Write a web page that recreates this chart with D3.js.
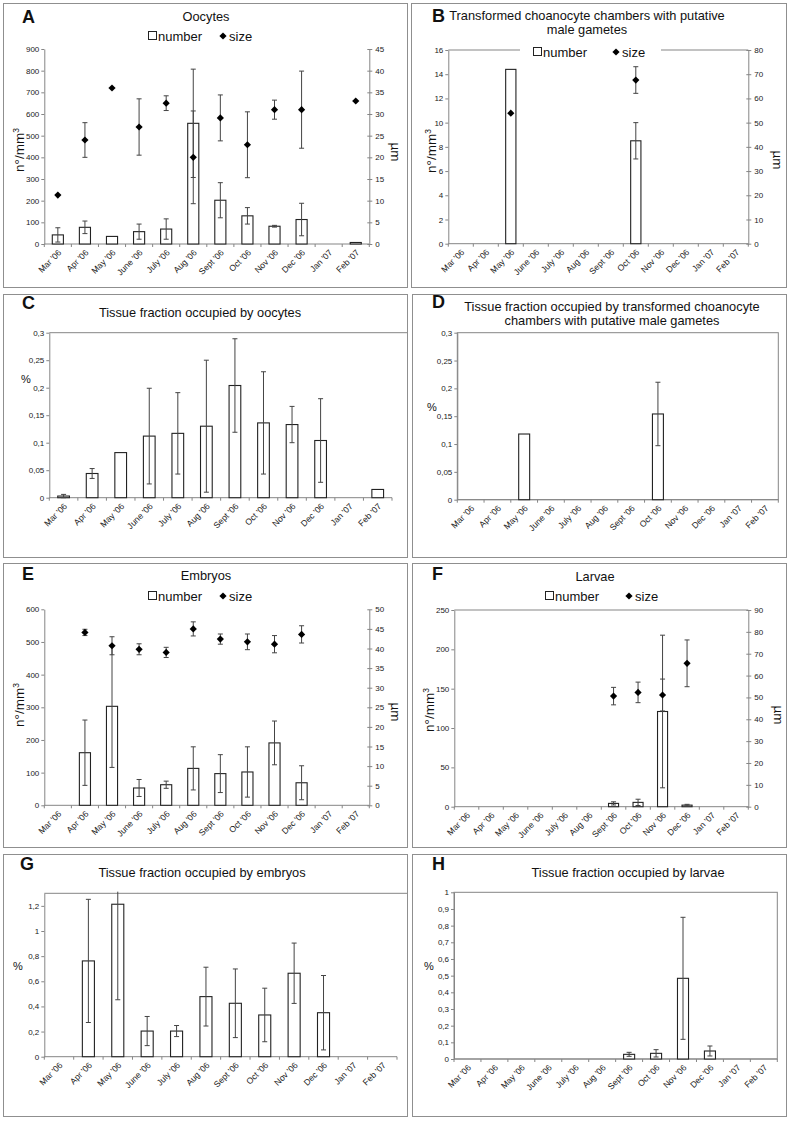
<!DOCTYPE html>
<meta charset="utf-8">
<head>
<style>
body { margin: 0; background: #fff; }
svg { display: block; font-family: "Liberation Sans", Arial, sans-serif; }
.frame { fill: none; stroke: #8f8f8f; stroke-width: 1px; }
.axis path, .axis line, .pline { stroke: #858585; fill: none; stroke-width: 1px; }
.axis text { font-size: 8px; fill: #1a1a1a; }
.axis text.xl { font-size: 8.6px; }
.bar { fill: #fff; stroke: #222; stroke-width: 1.1px; }
.err { stroke: #444; stroke-width: 1px; }
.title { font-size: 12.8px; fill: #111; text-anchor: middle; }
.letter { font-size: 18px; font-weight: bold; fill: #111; }
.legend { font-size: 13px; fill: #111; }
.ytitle { font-size: 13.5px; fill: #111; }
.pct { font-size: 11px; fill: #111; }
</style>
</head>
<body>
<script src="https://d3js.org/d3.v7.min.js"></script>
<script>
// months on the x axis of every panel
var months = ["Mar '06", "Apr '06", "May '06", "June '06", "July '06", "Aug '06",
              "Sept '06", "Oct '06", "Nov '06", "Dec '06", "Jan '07", "Feb '07"];

// A - oocytes (number n°/mm3 and size µm, with sd)
var oocyteNumber   = [42, 77, 35, 57, 69, 557, 202, 130, 82, 113, null, 7];
var oocyteNumberSd = [33, 29, 0, 35, 47, 250, 81, 38, 4, 75, null, 0];
var oocyteSize     = [11.3, 24, 36, 27, 32.5, 20, 29.1, 22.9, 31, 31, null, 33];
var oocyteSizeSd   = [0, 4, 0, 6.5, 1.7, 10.7, 5.3, 7.6, 2.2, 8.9, null, 0];

// B - transformed choanocyte chambers
var chamberNumber   = [null, null, 14.4, null, null, null, null, 8.5, null, null, null, null];
var chamberNumberSd = [null, null, 0, null, null, null, null, 1.5, null, null, null, null];
var chamberSize     = [null, null, 53.9, null, null, null, null, 67.6, null, null, null, null];
var chamberSizeSd   = [null, null, 0, null, null, null, null, 5.5, null, null, null, null];

// C - tissue fraction, oocytes (%)
var oocyteFraction   = [0.003, 0.044, 0.082, 0.112, 0.117, 0.130, 0.204, 0.136, 0.133, 0.104, null, 0.015];
var oocyteFractionSd = [0.003, 0.009, 0, 0.087, 0.074, 0.12, 0.085, 0.093, 0.033, 0.076, null, 0];

// D - tissue fraction, chambers (%)
var chamberFraction   = [null, null, 0.118, null, null, null, null, 0.154, null, null, null, null];
var chamberFractionSd = [null, null, 0, null, null, null, null, 0.057, null, null, null, null];

// E - embryos
var embryoNumber   = [null, 161, 303, 53, 63, 113, 97, 102, 191, 69, null, null];
var embryoNumberSd = [null, 100, 187, 26, 11, 66, 58, 77, 67, 52, null, null];
var embryoSize     = [null, 44.1, 40.7, 39.8, 39.0, 45.0, 42.4, 41.7, 41.1, 43.6, null, null];
var embryoSizeSd   = [null, 0.8, 2.3, 1.4, 1.3, 1.8, 1.3, 2.0, 2.2, 2.2, null, null];

// F - larvae
var larvaNumber   = [null, null, null, null, null, null, 4.2, 5.5, 121, 2, null, null];
var larvaNumberSd = [null, null, null, null, null, null, 2, 4, 97, 1, null, null];
var larvaSize     = [null, null, null, null, null, null, 50.6, 52.3, 51.1, 65.6, null, null];
var larvaSizeSd   = [null, null, null, null, null, null, 4, 4.7, 7.3, 10.7, null, null];

// G - tissue fraction, embryos (%)
var embryoFraction   = [null, 0.762, 1.213, 0.204, 0.204, 0.478, 0.425, 0.332, 0.664, 0.350, null, null];
var embryoFractionSd = [null, 0.49, 0.76, 0.116, 0.044, 0.234, 0.273, 0.213, 0.24, 0.296, null, null];

// H - tissue fraction, larvae (%)
var larvaFraction   = [null, null, null, null, null, null, 0.028, 0.034, 0.484, 0.048, null, null];
var larvaFractionSd = [null, null, null, null, null, null, 0.012, 0.022, 0.366, 0.03, null, null];

// tick values
var ticksA  = [0, 100, 200, 300, 400, 500, 600, 700, 800, 900];
var ticksA2 = [0, 5, 10, 15, 20, 25, 30, 35, 40, 45];
var ticksB  = [0, 2, 4, 6, 8, 10, 12, 14, 16];
var ticksB2 = [0, 10, 20, 30, 40, 50, 60, 70, 80];
var ticksCD = [0, 0.05, 0.1, 0.15, 0.2, 0.25, 0.3];
var ticksE  = [0, 100, 200, 300, 400, 500, 600];
var ticksE2 = [0, 5, 10, 15, 20, 25, 30, 35, 40, 45, 50];
var ticksF  = [0, 50, 100, 150, 200, 250];
var ticksF2 = [0, 10, 20, 30, 40, 50, 60, 70, 80, 90];
var ticksG  = [0, 0.2, 0.4, 0.6, 0.8, 1, 1.2];
var ticksH  = [0, 0.1, 0.2, 0.3, 0.4, 0.5, 0.6, 0.7, 0.8, 0.9, 1];

var svg = d3.select("body").append("svg")
    .attr("width", 791)
    .attr("height", 1121);

var comma = function(d) { return String(+d.toFixed(3)).replace(".", ","); };

var panels = [
  { letter: "A", frame: [3, 3, 407, 287], lx: 22, ly: 23,
    plot: [44.3, 369.3, 49, 244], yMax: 900, ticks: ticksA, y2Max: 45, ticks2: ticksA2,
    bars: oocyteNumber, barsSd: oocyteNumberSd, pts: oocyteSize, ptsSd: oocyteSizeSd,
    title: ["Oocytes"], tx: 206, ty: [21],
    legend: { box: 148, dia: 223, y: 36 }, yt: [24, 150], um: [396, 152] },
  { letter: "B", frame: [411, 3, 786, 287], lx: 432, ly: 22,
    plot: [448.3, 748.3, 50, 243.7], yMax: 16, ticks: ticksB, y2Max: 80, ticks2: ticksB2,
    bars: chamberNumber, barsSd: chamberNumberSd, pts: chamberSize, ptsSd: chamberSizeSd,
    title: ["Transformed choanocyte chambers with putative", "male gametes"], tx: 587, ty: [20, 34],
    border: "top", legend: { box: 533, dia: 616, y: 52, bg: [520, 661] }, yt: [436, 151], um: [778, 160] },
  { letter: "C", frame: [3, 294, 407, 557], lx: 22, ly: 309,
    plot: [49.3, 392, 332.7, 497.7], yMax: 0.3, ticks: ticksCD, fmt: comma,
    bars: oocyteFraction, barsSd: oocyteFractionSd,
    title: ["Tissue fraction occupied by oocytes"], tx: 200, ty: [317],
    border: "topfull", pct: [21, 383] },
  { letter: "D", frame: [412, 294, 786, 557], lx: 432, ly: 308,
    plot: [457.3, 778.3, 332.7, 499.7], yMax: 0.3, ticks: ticksCD, fmt: comma,
    bars: chamberFraction, barsSd: chamberFractionSd,
    title: ["Tissue fraction occupied by transformed choanocyte", "chambers with putative male gametes"],
    tx: 612, ty: [311, 325], border: "box", pct: [427, 411] },
  { letter: "E", frame: [3, 563, 407, 847], lx: 22, ly: 580,
    plot: [44.3, 369.3, 609.3, 805.3], yMax: 600, ticks: ticksE, y2Max: 50, ticks2: ticksE2,
    bars: embryoNumber, barsSd: embryoNumberSd, pts: embryoSize, ptsSd: embryoSizeSd,
    title: ["Embryos"], tx: 206, ty: [580],
    legend: { box: 148, dia: 223, y: 596 }, yt: [24, 705], um: [396, 712] },
  { letter: "F", frame: [412, 563, 786, 847], lx: 432, ly: 580,
    plot: [454.3, 748.3, 610, 806.7], yMax: 250, ticks: ticksF, y2Max: 90, ticks2: ticksF2,
    bars: larvaNumber, barsSd: larvaNumberSd, pts: larvaSize, ptsSd: larvaSizeSd,
    title: ["Larvae"], tx: 595, ty: [581],
    border: "top", legend: { box: 545, dia: 629, y: 596 }, yt: [434, 710], um: [779, 715] },
  { letter: "G", frame: [3, 854, 407, 1116], lx: 20, ly: 870,
    plot: [44.3, 397, 893.3, 1056.7], yMax: 1.3, ticks: ticksG, fmt: comma,
    bars: embryoFraction, barsSd: embryoFractionSd,
    title: ["Tissue fraction occupied by embryos"], tx: 202, ty: [877],
    border: "topfull", pct: [13, 970] },
  { letter: "H", frame: [412, 854, 786, 1116], lx: 432, ly: 870,
    plot: [454, 777.3, 892.3, 1059], yMax: 1, ticks: ticksH, fmt: comma,
    bars: larvaFraction, barsSd: larvaFractionSd,
    title: ["Tissue fraction occupied by larvae"], tx: 628, ty: [877],
    border: "box", pct: [424, 970] }
];

var diamond = d3.symbol().type(d3.symbolSquare).size(26);

function errBar(g, cx, y, v, sd) {
  if (!sd) return;
  var top = v + sd, bot = Math.max(0, v - sd);
  var clipped = top > y.domain()[1];
  g.append("line").attr("class", "err")
    .attr("x1", cx).attr("x2", cx)
    .attr("y1", y(Math.min(top, y.domain()[1] * 1.01))).attr("y2", y(bot));
  if (!clipped)
    g.append("line").attr("class", "err")
      .attr("x1", cx - 2.5).attr("x2", cx + 2.5).attr("y1", y(top)).attr("y2", y(top));
  g.append("line").attr("class", "err")
    .attr("x1", cx - 2.5).attr("x2", cx + 2.5).attr("y1", y(bot)).attr("y2", y(bot));
}

function drawPanel(p) {
  var g = svg.append("g");
  var f = p.frame;
  var x0 = p.plot[0], x1 = p.plot[1], yTop = p.plot[2], yBot = p.plot[3];

  g.append("rect").attr("class", "frame")
    .attr("x", f[0] + 0.5).attr("y", f[1] + 0.5)
    .attr("width", f[2] - f[0]).attr("height", f[3] - f[1]);

  var x = d3.scaleBand().domain(months).range([x0, x1]);
  var bw = x.bandwidth();
  var y = d3.scaleLinear().domain([0, p.yMax]).range([yBot, yTop]);

  // plot area border
  if (p.border === "box") {
    g.append("rect").attr("class", "pline")
      .attr("x", x0).attr("y", yTop).attr("width", x1 - x0).attr("height", yBot - yTop);
  } else if (p.border === "top") {
    g.append("line").attr("class", "pline")
      .attr("x1", x0).attr("x2", x1).attr("y1", yTop).attr("y2", yTop);
  } else if (p.border === "topfull") {
    g.append("line").attr("class", "pline")
      .attr("x1", x0).attr("x2", f[2]).attr("y1", yTop).attr("y2", yTop);
  }

  // x axis: ticks on category boundaries, labels under category centres
  var xa = g.append("g").attr("class", "axis");
  xa.append("line").attr("x1", x0).attr("x2", x1).attr("y1", yBot).attr("y2", yBot);
  xa.selectAll(".bt").data(months.concat(["end"])).enter().append("line")
    .attr("x1", function(d) { return d === "end" ? x1 : x(d); })
    .attr("x2", function(d) { return d === "end" ? x1 : x(d); })
    .attr("y1", yBot).attr("y2", yBot + 3);
  xa.selectAll("text").data(months).enter().append("text")
    .attr("class", "xl")
    .attr("transform", function(d) {
      return "translate(" + (x(d) + bw / 2 + 2) + "," + (yBot + 7) + ") rotate(-45)";
    })
    .attr("text-anchor", "end")
    .attr("dy", "0.35em")
    .text(function(d) { return d; });

  // left axis
  g.append("g").attr("class", "axis")
    .attr("transform", "translate(" + x0 + ",0)")
    .call(d3.axisLeft(y).tickValues(p.ticks).tickSize(3).tickSizeOuter(0)
      .tickFormat(p.fmt || function(d) { return d; }))
    .call(function(a) { a.selectAll("text").attr("x", -5); });

  var y2 = null;
  if (p.y2Max) {
    y2 = d3.scaleLinear().domain([0, p.y2Max]).range([yBot, yTop]);
    g.append("g").attr("class", "axis")
      .attr("transform", "translate(" + x1 + ",0)")
      .call(d3.axisRight(y2).tickValues(p.ticks2).tickSize(3).tickSizeOuter(0))
      .call(function(a) {
        a.selectAll(".tick line").attr("x1", -2);
        a.selectAll("text").attr("x", 6);
      });
  }

  // bars
  var barFrac = 0.41;
  var bars = months.map(function(m, i) { return { m: m, v: p.bars[i], sd: p.barsSd[i] }; })
    .filter(function(d) { return d.v != null; });
  g.selectAll(".bar").data(bars).enter().append("rect").attr("class", "bar")
    .attr("x", function(d) { return x(d.m) + bw * (1 - barFrac) / 2; })
    .attr("width", bw * barFrac)
    .attr("y", function(d) { return y(d.v); })
    .attr("height", function(d) { return y(0) - y(d.v); });
  bars.forEach(function(d) { errBar(g, x(d.m) + bw / 2, y, d.v, d.sd); });

  // size points
  if (p.pts) {
    var pts = months.map(function(m, i) { return { m: m, v: p.pts[i], sd: p.ptsSd[i] }; })
      .filter(function(d) { return d.v != null; });
    pts.forEach(function(d) { errBar(g, x(d.m) + bw / 2, y2, d.v, d.sd); });
    g.selectAll(".pt").data(pts).enter().append("path")
      .attr("d", diamond)
      .attr("fill", "#000")
      .attr("transform", function(d) {
        return "translate(" + (x(d.m) + bw / 2) + "," + y2(d.v) + ") rotate(45)";
      });
  }

  // panel letter and title
  g.append("text").attr("class", "letter").attr("x", p.lx).attr("y", p.ly).text(p.letter);
  p.title.forEach(function(t, i) {
    g.append("text").attr("class", "title").attr("x", p.tx).attr("y", p.ty[i]).text(t);
  });

  // legend
  if (p.legend) {
    var L = p.legend;
    if (L.bg) {
      g.append("rect").attr("x", L.bg[0]).attr("y", L.y - 8)
        .attr("width", L.bg[1] - L.bg[0]).attr("height", 16).attr("fill", "#fff");
    }
    g.append("rect").attr("x", L.box + 0.5).attr("y", L.y - 4.5).attr("width", 8).attr("height", 8)
      .attr("fill", "#fff").attr("stroke", "#222").attr("stroke-width", 1);
    g.append("text").attr("class", "legend").attr("x", L.box + 10).attr("y", L.y + 4.5).text("number");
    g.append("path").attr("d", diamond).attr("fill", "#000")
      .attr("transform", "translate(" + L.dia + "," + L.y + ") rotate(45)");
    g.append("text").attr("class", "legend").attr("x", L.dia + 6).attr("y", L.y + 4.5).text("size");
  }

  // axis titles
  if (p.yt) {
    var yt = g.append("text").attr("class", "ytitle")
      .attr("transform", "translate(" + p.yt[0] + "," + p.yt[1] + ") rotate(-90)")
      .attr("text-anchor", "middle");
    yt.append("tspan").text("n°/mm");
    yt.append("tspan").attr("dy", -5).attr("font-size", "8.5px").text("3");
    g.append("text").attr("class", "ytitle")
      .attr("transform", "translate(" + p.um[0] + "," + p.um[1] + ") rotate(90)")
      .attr("text-anchor", "middle").attr("dy", "0.35em")
      .text("µm");
  }
  if (p.pct) {
    g.append("text").attr("class", "pct").attr("x", p.pct[0]).attr("y", p.pct[1]).text("%");
  }
}

panels.forEach(drawPanel);
</script>
</body>
</html>
